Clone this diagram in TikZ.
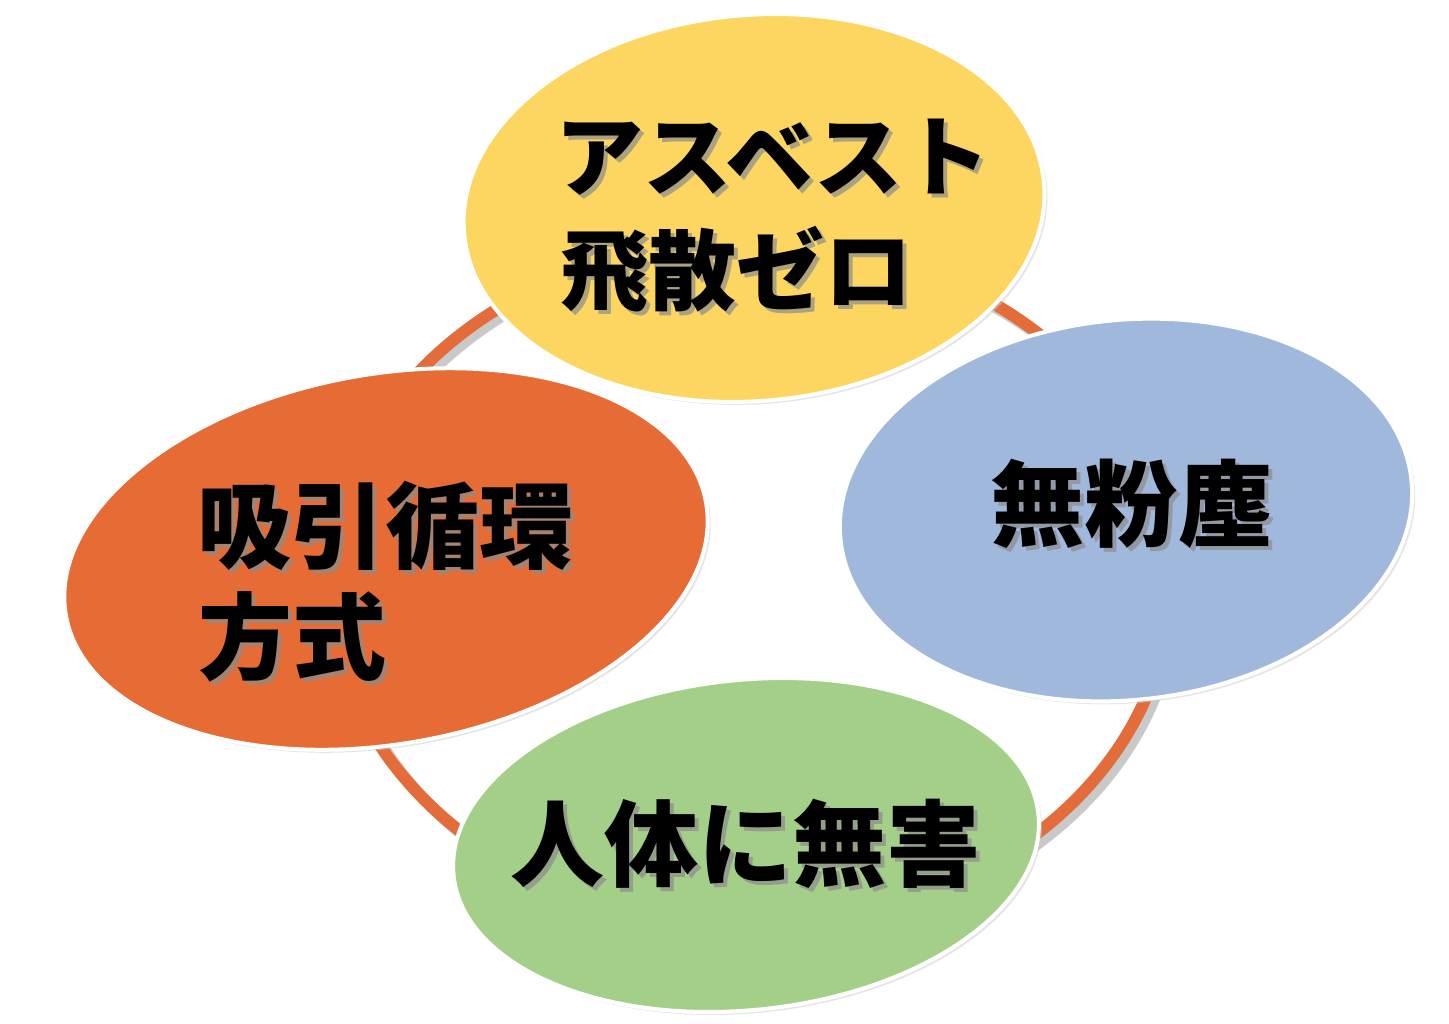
\documentclass[tikz,border=0pt]{standalone}
\usepackage{fontspec}
\newfontfamily\jp{Noto Sans CJK JP}
\definecolor{cyel}{RGB}{252,214,96}
\definecolor{cblu}{RGB}{161,184,221}
\definecolor{cora}{RGB}{230,107,52}
\definecolor{cgrn}{RGB}{164,207,136}
\definecolor{cring}{RGB}{227,108,58}
\begin{document}
\begin{tikzpicture}[x=0.5pt,y=-0.5pt,
  blob/.style={draw=white,line width=2pt},
  lbl/.style={anchor=base west,inner sep=0pt,font=\jp\bfseries\fontsize{47}{50}\selectfont},
  lblsm/.style={lbl,font=\jp\bfseries\fontsize{44}{48}\selectfont},
  shd/.style={text=black!45,opacity=0.7}]
\useasboundingbox (0,0) rectangle (1449,1023);
% ring shadow and ring
\draw[line width=6pt,black!30,opacity=0.7] (756,589) ellipse [x radius=420,y radius=343];
\draw[line width=6pt,cring] (750,583) ellipse [x radius=420,y radius=343];
% ellipses
\fill[black!20,opacity=0.5,rotate around={5:(757,211)}] (757,211) ellipse [x radius=291,y radius=193];
\draw[blob,fill=cyel,rotate around={5:(754,208)}] (754,208) ellipse [x radius=291,y radius=193];
\fill[black!20,opacity=0.5,rotate around={6:(1129,513)}] (1129,513) ellipse [x radius=287,y radius=190];
\draw[blob,fill=cblu,rotate around={6:(1126,510)}] (1126,510) ellipse [x radius=287,y radius=190];
\fill[black!20,opacity=0.5,rotate around={10:(389,562)}] (389,562) ellipse [x radius=325,y radius=185];
\draw[blob,fill=cora,rotate around={10:(386,559)}] (386,559) ellipse [x radius=325,y radius=185];
\fill[black!20,opacity=0.5,rotate around={6:(749,848)}] (749,848) ellipse [x radius=294,y radius=165];
\draw[blob,fill=cgrn,rotate around={6:(746,845)}] (746,845) ellipse [x radius=294,y radius=165];
% texts (drop shadow + text)
\node[lblsm,shd] (y1s) at (559,193) {アスベスト};
\node[lblsm] (y1) at (555,189) {アスベスト};
\node[lblsm,shd] (y2s) at (564,307) {飛散ゼロ};
\node[lblsm] (y2) at (560,303) {飛散ゼロ};
\node[lbl,shd] (o1s) at (201,565) {吸引循環};
\node[lbl] (o1) at (197,561) {吸引循環};
\node[lbl,shd] (o2s) at (202,676) {方式};
\node[lbl] (o2) at (198,672) {方式};
\node[lbl,shd] (b1s) at (994,543) {無粉塵};
\node[lbl] (b1) at (990,539) {無粉塵};
\node[lbl,shd] (g1s) at (514,883) {人体に無害};
\node[lbl] (g1) at (510,879) {人体に無害};
\end{tikzpicture}
\end{document}
